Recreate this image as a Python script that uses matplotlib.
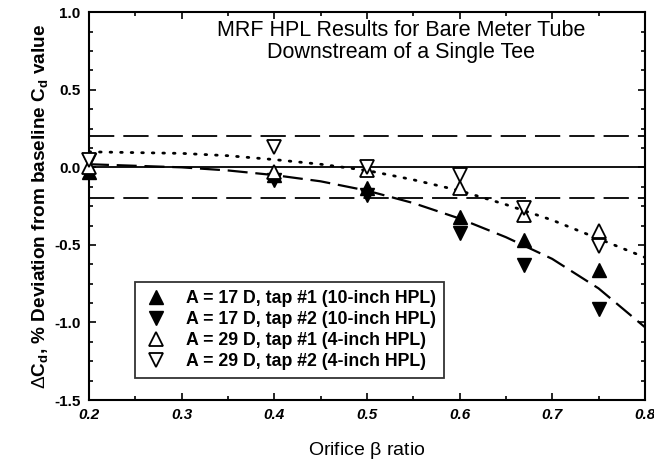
import matplotlib
matplotlib.use('Agg')
import matplotlib.pyplot as plt
from matplotlib.ticker import MultipleLocator, FormatStrFormatter

plt.rcParams['font.family'] = ['Liberation Sans', 'DejaVu Sans']
plt.rcParams['mathtext.fontset'] = 'custom'
plt.rcParams['mathtext.rm'] = 'Liberation Sans'
plt.rcParams['mathtext.it'] = 'Liberation Sans:italic'
plt.rcParams['mathtext.bf'] = 'Liberation Sans:bold'
plt.rcParams['axes.unicode_minus'] = False

# orifice beta ratios of the test points
beta = [0.2, 0.4, 0.5, 0.6, 0.67, 0.75]

# deviations, percent
tap1_17D = [-0.03, -0.05, -0.13, -0.32, -0.47, -0.66]
tap2_17D = [0.05, -0.08, -0.18, -0.42, -0.63, -0.91]
tap1_29D = [0.0, -0.03, -0.02, -0.13, -0.31, -0.41]
tap2_29D = [0.05, 0.13, 0.0, -0.05, -0.26, -0.51]

# fitted curves (read at 0.05 steps)
fit_beta = [0.2, 0.25, 0.3, 0.35, 0.4, 0.45, 0.5, 0.55, 0.6, 0.65, 0.7, 0.75, 0.8]
fit_17D = [0.02, 0.01, 0.0, -0.02, -0.05, -0.09, -0.15, -0.23, -0.33, -0.45, -0.59, -0.78, -1.03]
fit_29D = [0.10, 0.095, 0.09, 0.075, 0.05, 0.02, -0.02, -0.08, -0.15, -0.24, -0.34, -0.46, -0.58]

band = 0.2

labels = ['A = 17 D, tap #1 (10-inch HPL)',
          'A = 17 D, tap #2 (10-inch HPL)',
          'A = 29 D, tap #1 (4-inch HPL)',
          'A = 29 D, tap #2 (4-inch HPL)']

fig = plt.figure(figsize=(6.54, 4.69), dpi=100)
ax = fig.add_axes([0.136, 0.147, 0.850, 0.827])

ax.axhline(0, color='black', lw=1.3, zorder=1)
ax.axhline(band, color='black', lw=1.3, ls=(0, (14, 5)), zorder=1)
ax.axhline(-band, color='black', lw=1.3, ls=(0, (14, 5)), zorder=1)

ax.plot(fit_beta, fit_17D, color='black', lw=1.6, ls=(0, (9, 3.5)), zorder=2)
ax.plot(fit_beta, fit_29D, color='black', lw=2, ls=(0, (0.6, 3.2)),
        dash_capstyle='round', zorder=2)

ms = 10
h1, = ax.plot(beta, tap1_17D, ls='none', marker='^', ms=ms, mfc='black', mec='black', clip_on=False, zorder=3)
h2, = ax.plot(beta, tap2_17D, ls='none', marker='v', ms=ms, mfc='black', mec='black', clip_on=False, zorder=3)
h3, = ax.plot(beta, tap1_29D, ls='none', marker='^', ms=ms, mfc='white', mec='black', mew=1.3, clip_on=False, zorder=3)
h4, = ax.plot(beta, tap2_29D, ls='none', marker='v', ms=ms, mfc='white', mec='black', mew=1.3, clip_on=False, zorder=3)

ax.set_xlim(0.2, 0.8)
ax.set_ylim(-1.5, 1.0)
ax.xaxis.set_major_locator(MultipleLocator(0.1))
ax.xaxis.set_minor_locator(MultipleLocator(0.05))
ax.yaxis.set_major_locator(MultipleLocator(0.5))
ax.yaxis.set_minor_locator(MultipleLocator(0.125))
ax.xaxis.set_major_formatter(FormatStrFormatter('%.1f'))
ax.yaxis.set_major_formatter(FormatStrFormatter('%.1f'))
ax.tick_params(which='both', direction='in', top=True, right=True, width=1.2)
ax.tick_params(which='major', length=5, labelsize=11, pad=6)
ax.tick_params(which='minor', length=3)
for lab in ax.get_xticklabels():
    lab.set_fontweight('bold')
    lab.set_fontstyle('italic')
for lab in ax.get_yticklabels():
    lab.set_fontweight('bold')
for s in ax.spines.values():
    s.set_linewidth(1.5)

ax.set_xlabel(r'Orifice $\mathregular{\beta}$ ratio', fontsize=14, labelpad=13)
ax.set_ylabel(r'$\Delta$C$_\mathregular{d}$, % Deviation from baseline C$_\mathregular{d}$ value',
              fontsize=13.7, fontweight='bold', labelpad=3)

ax.text(0.561, 0.925, 'MRF HPL Results for Bare Meter Tube\nDownstream of a Single Tee',
        transform=ax.transAxes, ha='center', va='center', fontsize=15.5, linespacing=1.05)

leg = ax.legend([h1, h2, h3, h4], labels, loc='lower left', bbox_to_anchor=(0.083, 0.057),
                fontsize=12.8, frameon=True, fancybox=False, edgecolor='black',
                handletextpad=1.0, borderpad=0.45, labelspacing=0.22, handlelength=1.4,
                borderaxespad=0)
leg.get_frame().set_linewidth(1.3)
for t in leg.get_texts():
    t.set_fontweight('bold')

fig.savefig('out.png', dpi=100)
